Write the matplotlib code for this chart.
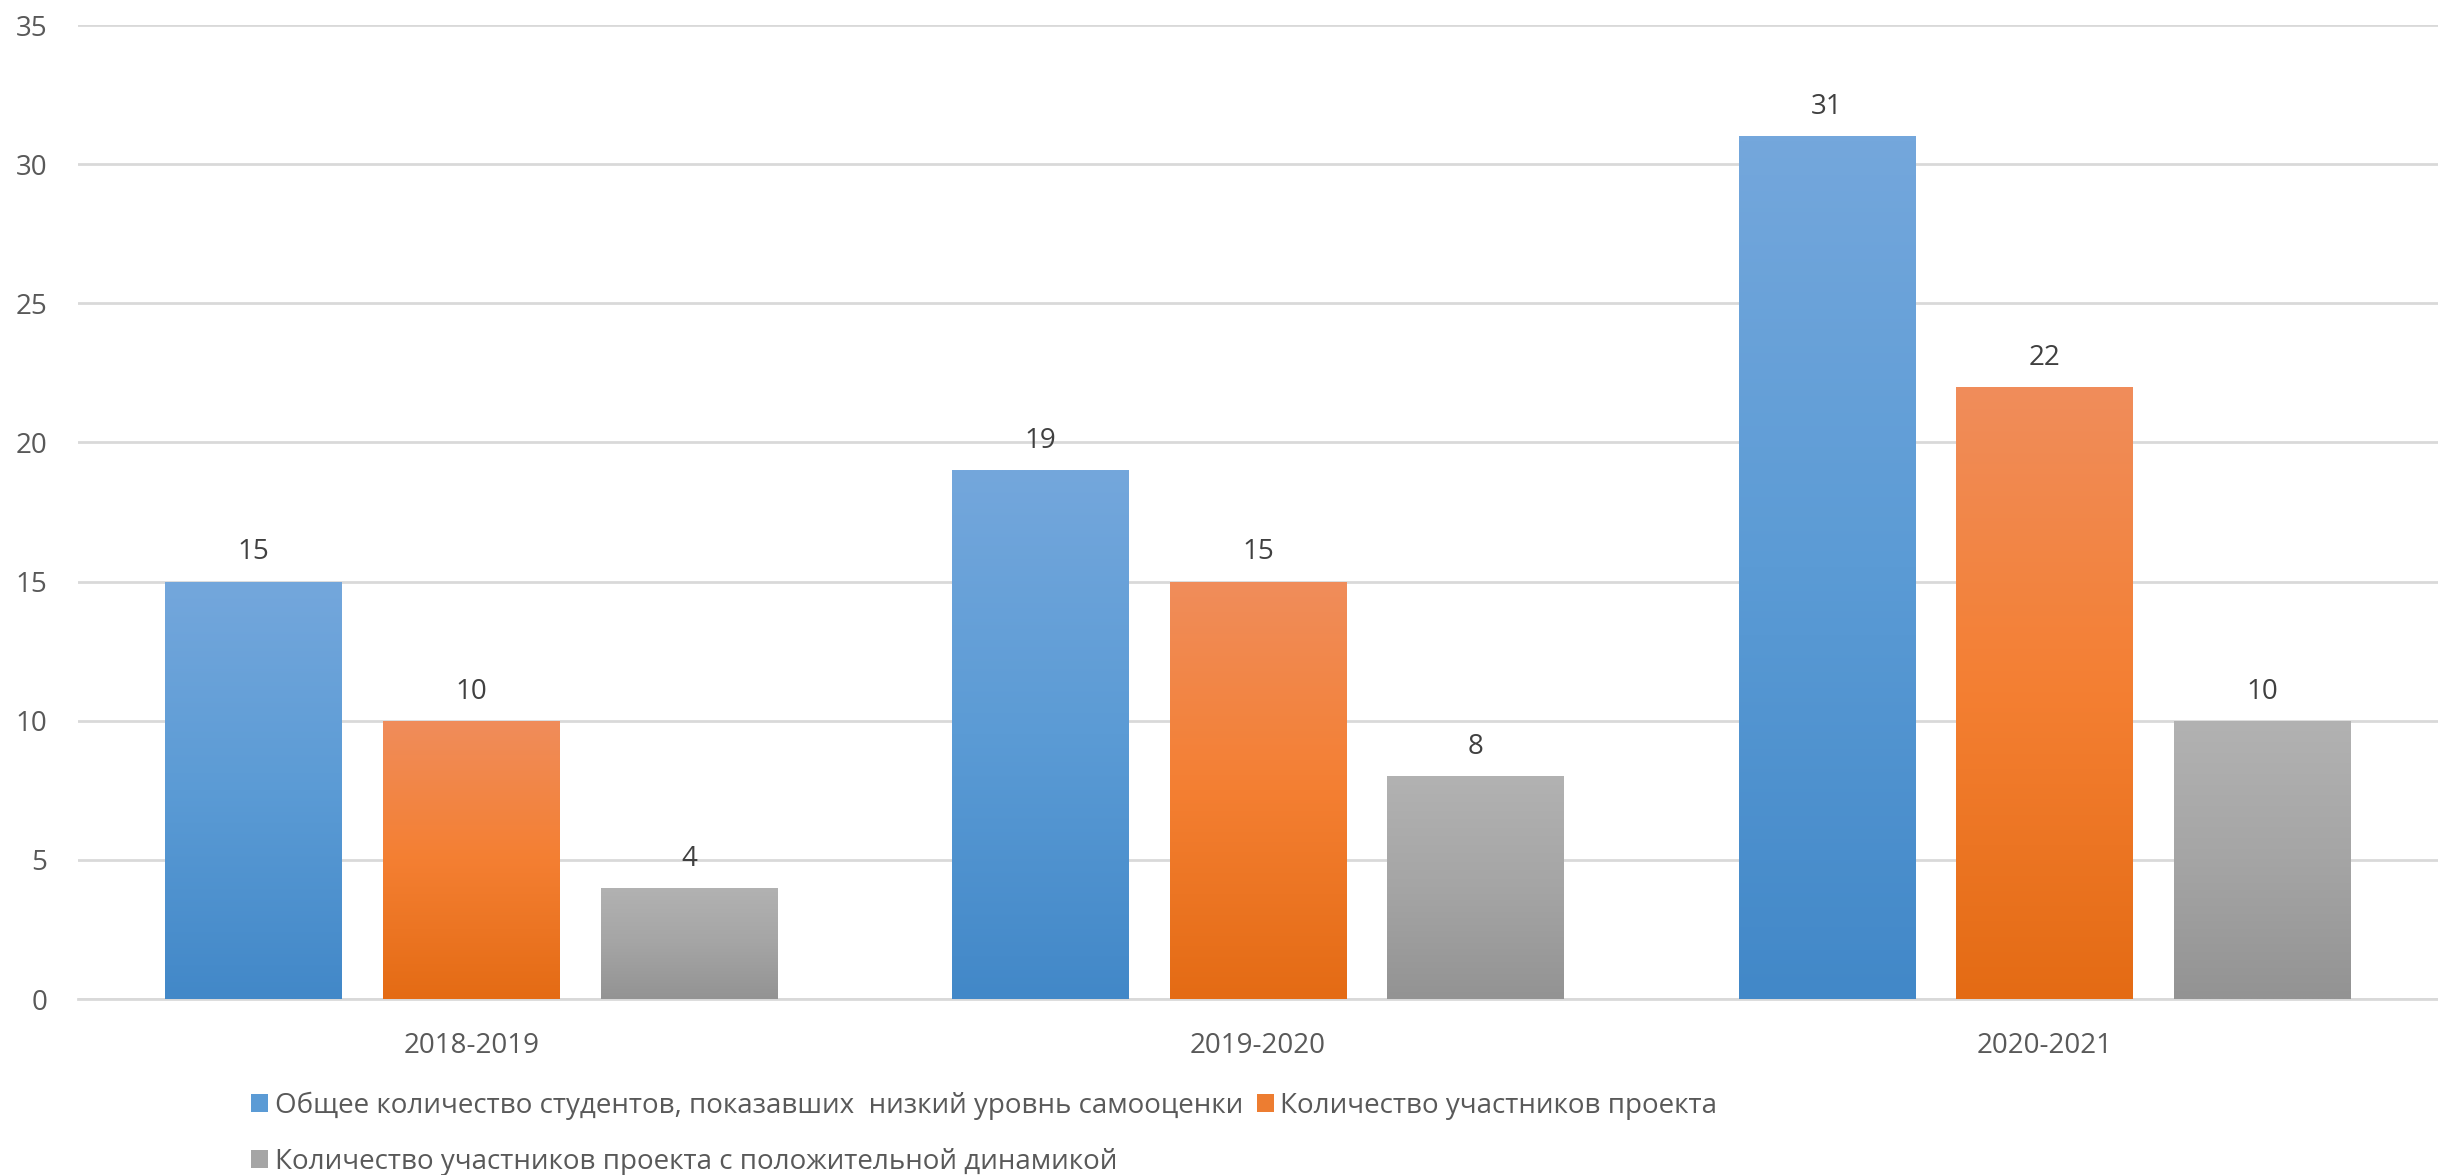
import numpy as np
import matplotlib
matplotlib.use("Agg")
import matplotlib.pyplot as plt
from matplotlib.colors import LinearSegmentedColormap
from matplotlib.patches import Patch

plt.rcParams['font.family'] = ['Open Sans', 'DejaVu Sans']

years = ["2018-2019", "2019-2020", "2020-2021"]
series_names = [
    "Общее количество студентов, показавших  низкий уровнь самооценки",
    "Количество участников проекта",
    "Количество участников проекта с положительной динамикой",
]
total_low = [15, 19, 31]
participants = [10, 15, 22]
positive = [4, 8, 10]
values = [total_low, participants, positive]

# light top -> dark bottom, like the Excel gradient fill
grads = [
    ("#74A7DC", "#5B9BD5", "#4288C8"),
    ("#F08D5B", "#F47F32", "#E46B14"),
    ("#B2B2B2", "#A5A5A5", "#939393"),
]
solid = ["#5B9BD5", "#ED7D31", "#A5A5A5"]

fig = plt.figure(figsize=(24.38, 11.75), dpi=100)
ax = fig.add_axes([0.032, 0.1497, 0.968, 0.829])

x = np.arange(len(years))
w = 0.2246
step = 0.2766

for i, vals in enumerate(values):
    bars = ax.bar(x + (i - 1) * step, vals, width=w, color=solid[i], zorder=2)
    cmap = LinearSegmentedColormap.from_list("g%d" % i, list(grads[i]))
    grad = np.linspace(0, 1, 256).reshape(-1, 1)
    for b in bars:
        x0, y0 = b.get_x(), b.get_y()
        im = ax.imshow(grad, cmap=cmap, aspect="auto", zorder=3,
                       extent=(x0, x0 + b.get_width(), y0, y0 + b.get_height()),
                       origin="upper", interpolation="bilinear")
        im.set_clip_path(b)
        ax.annotate(str(int(b.get_height())), (x0 + b.get_width() / 2, b.get_height()),
                    xytext=(0, 11), textcoords="offset points", ha="center", va="bottom",
                    fontsize=20, color="#404040")

ax.set_xlim(-0.5, 2.5)
ax.set_ylim(0, 35)
ax.set_yticks(range(0, 36, 5))
ax.set_xticks(x)
ax.set_xticklabels(years)
ax.tick_params(axis="both", length=0, labelsize=20, colors="#595959")
ax.tick_params(axis="y", pad=22)
ax.tick_params(axis="x", pad=24)
ax.grid(axis="y", color="#D9D9D9", linewidth=2, zorder=0)
ax.set_axisbelow(True)
for s in ["top", "right", "left"]:
    ax.spines[s].set_visible(False)
ax.spines["bottom"].set_color("#D9D9D9")
ax.spines["bottom"].set_linewidth(2)

handles = [Patch(facecolor=solid[i]) for i in range(3)]
order = [0, 2, 1]
leg = fig.legend([handles[k] for k in order], [series_names[k] for k in order],
                 ncol=2, loc="upper left", bbox_to_anchor=(0.103, 0.071),
                 frameon=False, fontsize=20, handlelength=0.6, handleheight=0.65,
                 handletextpad=0.25, columnspacing=0.5, labelspacing=1.0,
                 borderpad=0, borderaxespad=0)
for t in leg.get_texts():
    t.set_color("#595959")

fig.savefig("out.png", dpi=100)
